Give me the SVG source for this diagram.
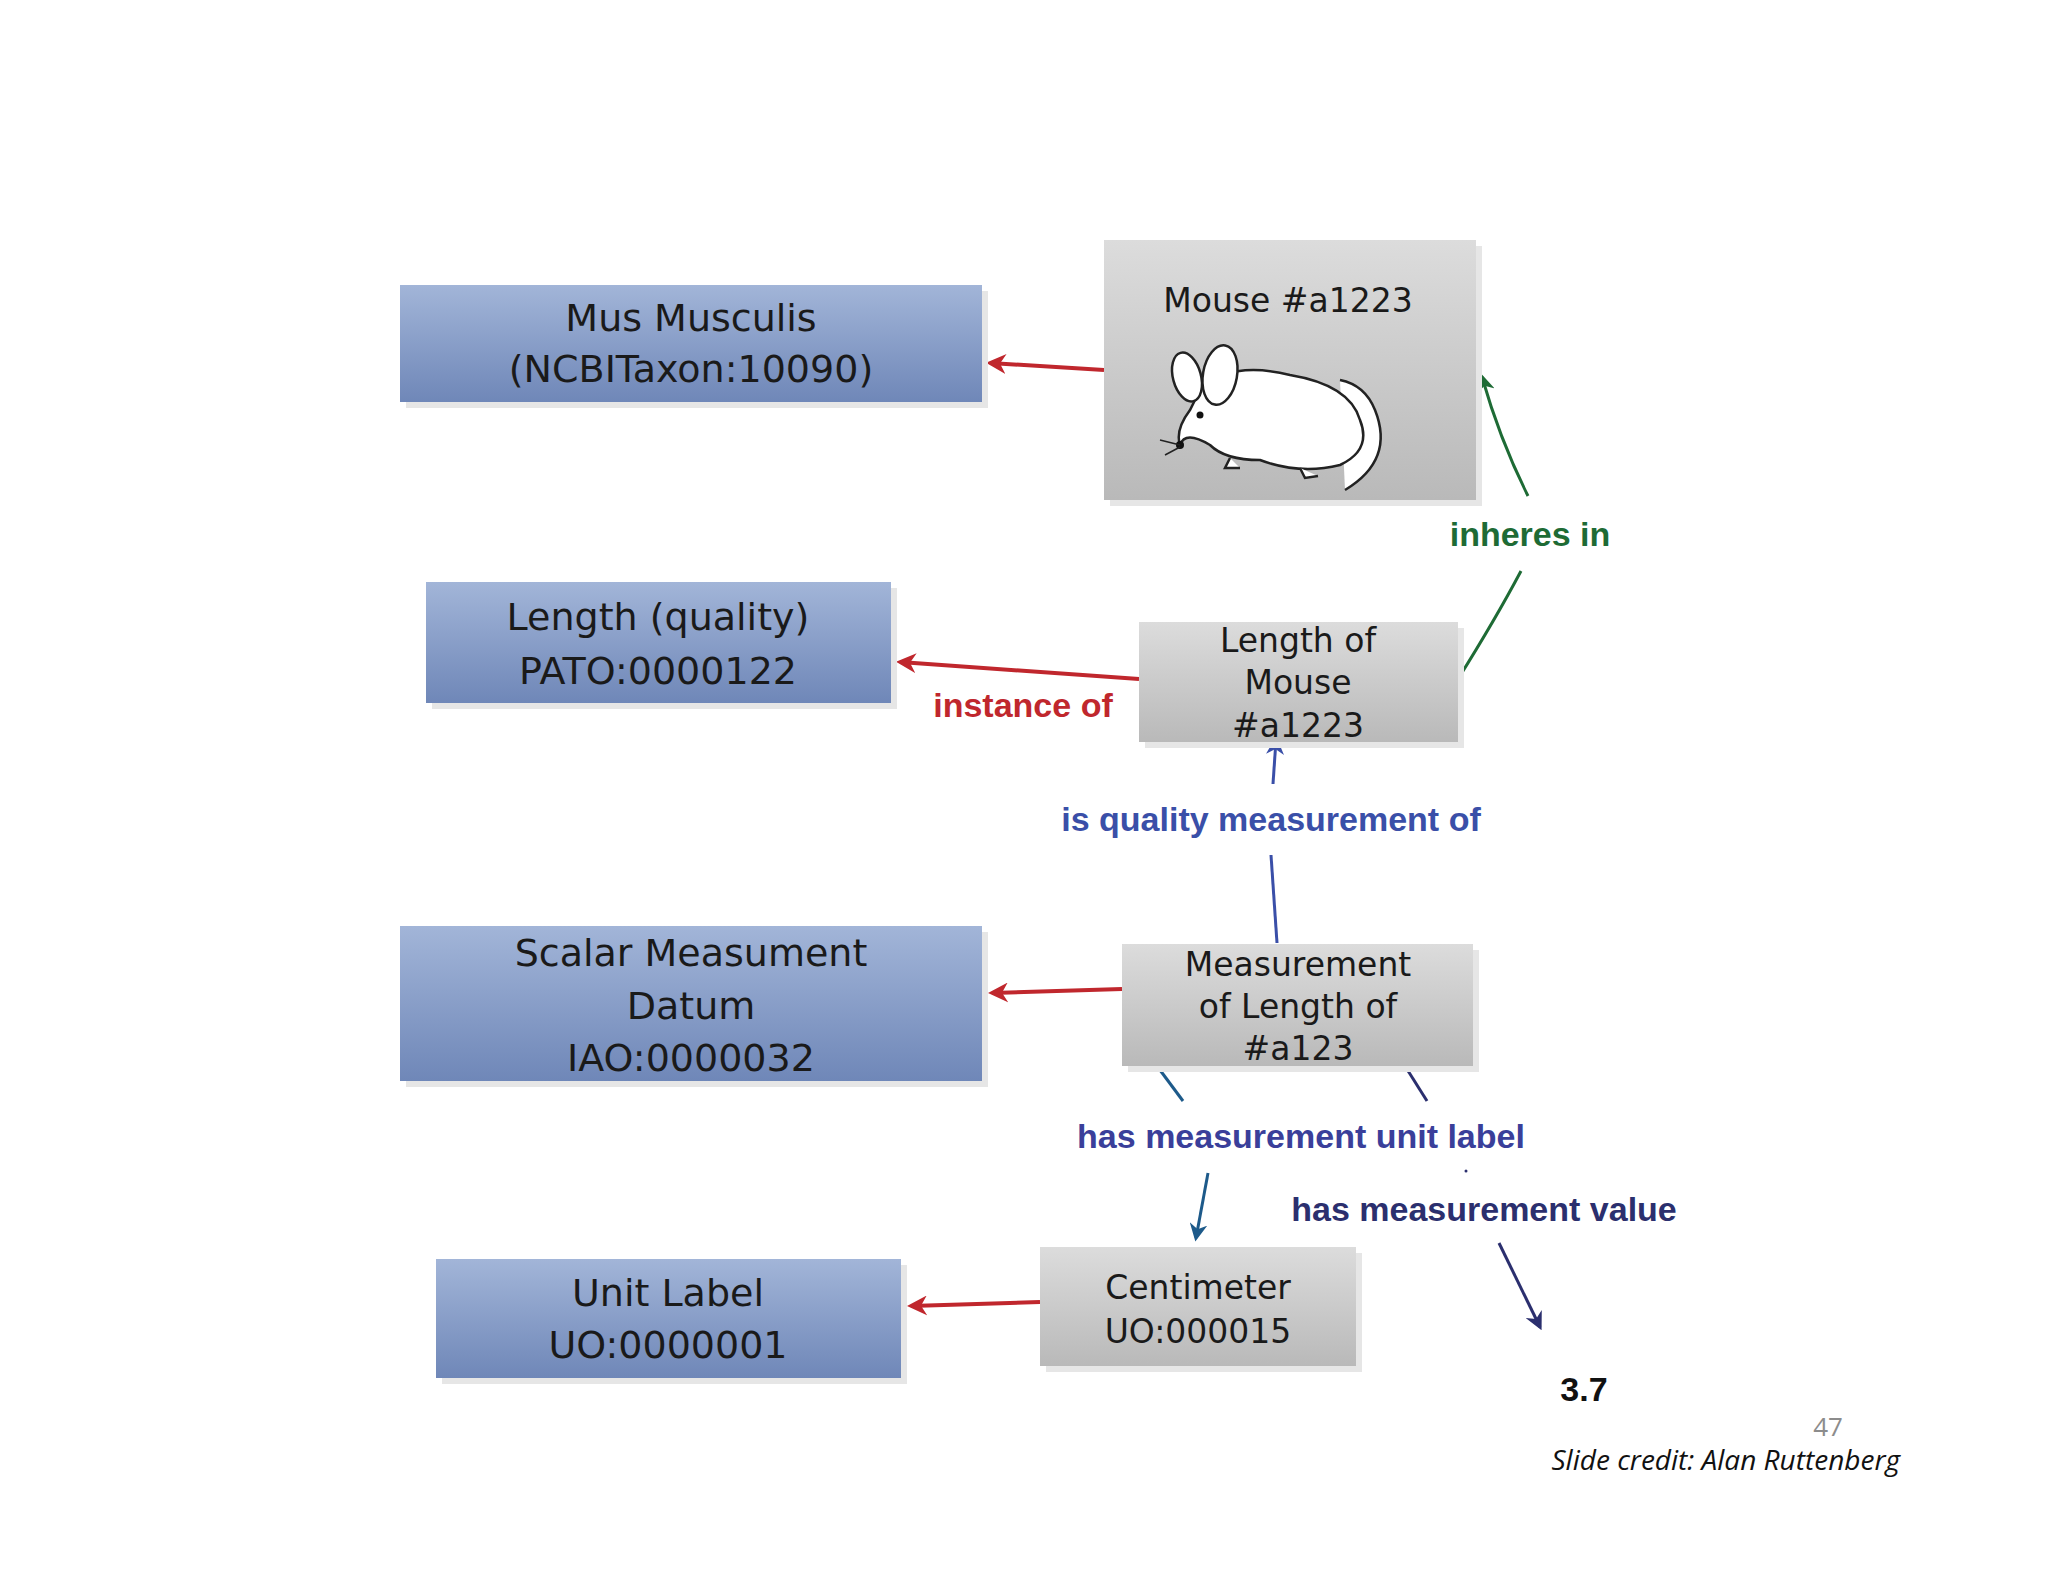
<svg xmlns="http://www.w3.org/2000/svg" width="2048" height="1582" viewBox="0 0 2048 1582">
<defs>
<linearGradient id="blue" x1="0" y1="0" x2="0" y2="1"><stop offset="0" stop-color="#a2b5d8"/><stop offset="1" stop-color="#6f87b8"/></linearGradient>
<linearGradient id="gray" x1="0" y1="0" x2="0" y2="1"><stop offset="0" stop-color="#dcdcdc"/><stop offset="1" stop-color="#b9b9b9"/></linearGradient>
<marker id="ar" viewBox="0 0 10 10" refX="8" refY="5" markerWidth="5" markerHeight="5" orient="auto"><path d="M0,0 L10,5 L0,10 L3,5 Z" fill="#c0272d"/></marker>
<marker id="ag" viewBox="0 0 10 10" refX="8" refY="5" markerWidth="6" markerHeight="6" orient="auto"><path d="M0,0 L10,5 L0,10 L3,5 Z" fill="#1e6b35"/></marker>
<marker id="ab" viewBox="0 0 10 10" refX="8" refY="5" markerWidth="6" markerHeight="6" orient="auto"><path d="M0,0 L10,5 L0,10 L3,5 Z" fill="#3a4fa8"/></marker>
<marker id="ad" viewBox="0 0 10 10" refX="8" refY="5" markerWidth="6" markerHeight="6" orient="auto"><path d="M0,0 L10,5 L0,10 L3,5 Z" fill="#1d5a8a"/></marker>
<marker id="an" viewBox="0 0 10 10" refX="8" refY="5" markerWidth="6" markerHeight="6" orient="auto"><path d="M0,0 L10,5 L0,10 L3,5 Z" fill="#2b2f6e"/></marker>
</defs>
<style>
.bx{font-family:"DejaVu Sans",sans-serif;font-size:38px;fill:#1a1a1a;text-anchor:middle}
.gx{font-family:"DejaVu Sans",sans-serif;font-size:33px;fill:#1a1a1a;text-anchor:middle}
.lb{font-family:"Liberation Sans",Arial,sans-serif;font-weight:bold;font-size:34px;text-anchor:middle}
.sh{fill:#e6e6e6}
</style>
<rect width="2048" height="1582" fill="#fff"/>
<g id="connectors" fill="none" stroke-width="4">
<path d="M1104,370 L990,363" stroke="#c0272d" marker-end="url(#ar)"/>
<path d="M1458,679 Q1495,620 1521,571" stroke="#1e6b35" stroke-width="3"/>
<path d="M1528,496 Q1500,440 1482,377" stroke="#1e6b35" stroke-width="3" marker-end="url(#ag)"/>
<path d="M1139,679 L900,662" stroke="#c0272d" marker-end="url(#ar)"/>
<path d="M1277,943 L1271,855" stroke="#3a4fa8" stroke-width="3"/>
<path d="M1273,784 L1276,740" stroke="#3a4fa8" stroke-width="3" marker-end="url(#ab)"/>
<path d="M1122,989 L992,993" stroke="#c0272d" marker-end="url(#ar)"/>
<path d="M1157,1066 L1183,1101" stroke="#1d5a8a" stroke-width="3"/>
<path d="M1208,1173 L1196,1238" stroke="#1d5a8a" stroke-width="3" marker-end="url(#ad)"/>
<path d="M1405,1066 L1427,1101" stroke="#2b2f6e" stroke-width="3"/>
<path d="M1499,1243 L1540,1327" stroke="#2b2f6e" stroke-width="3" marker-end="url(#an)"/>
<circle cx="1466" cy="1171" r="1.5" fill="#2b2f6e" stroke="none"/>
<path d="M1040,1302 L911,1306" stroke="#c0272d" marker-end="url(#ar)"/>
</g>
<g id="labels">
<text class="lb" x="1530" y="546" fill="#1e6b35">inheres in</text>
<text class="lb" x="1023" y="717" fill="#c0272d">instance of</text>
<text class="lb" x="1271" y="831" fill="#3a4fa8">is quality measurement of</text>
<text class="lb" x="1301" y="1148" fill="#3a3f9a">has measurement unit label</text>
<text class="lb" x="1484" y="1221" fill="#2b2f6e">has measurement value</text>
<text id="value" class="lb" x="1584" y="1401" fill="#111" font-size="42">3.7</text>
<text x="1828" y="1436" font-family="'Open Sans',sans-serif" font-size="26" fill="#8c8c8c" text-anchor="middle">47</text>
<text x="1900" y="1470" font-family="'Open Sans',sans-serif" font-style="italic" font-size="28" fill="#111" text-anchor="end">Slide credit: Alan Ruttenberg</text>
</g>
<g id="mus">
<rect class="sh" x="406" y="291" width="582" height="117"/>
<rect x="400" y="285" width="582" height="117" fill="url(#blue)"/>
<text class="bx" x="691" y="331">Mus Musculis</text>
<text class="bx" x="691" y="382">(NCBITaxon:10090)</text>
</g>
<g id="mouse">
<rect class="sh" x="1110" y="246" width="372" height="260"/>
<rect x="1104" y="240" width="372" height="260" fill="url(#gray)"/>
<text class="gx" x="1288" y="312">Mouse #a1223</text>
<g fill="#fff" stroke="#222" stroke-width="2.5">
<path d="M1345,490 Q1395,460 1375,410 Q1365,385 1340,380"/>
<path d="M1200,390 Q1230,360 1290,375 Q1350,385 1360,420 Q1372,450 1340,465 Q1300,475 1260,460 Q1225,460 1210,445 Q1185,430 1180,445 Q1175,430 1190,410 Z"/>
<ellipse cx="1187" cy="377" rx="14" ry="25" transform="rotate(-15 1187 377)"/>
<ellipse cx="1220" cy="375" rx="17" ry="30" transform="rotate(10 1220 375)"/>
<path d="M1230,458 L1225,468 L1240,468"/>
<path d="M1300,468 L1305,478 L1318,476"/>
</g>
<circle cx="1200" cy="415" r="3.5" fill="#111"/>
<circle cx="1180" cy="445" r="4" fill="#111"/>
<path d="M1180,445 L1160,440 M1180,447 L1165,455" stroke="#222" stroke-width="1.5"/>
</g>
<g id="lenq">
<rect class="sh" x="432" y="588" width="465" height="121"/>
<rect x="426" y="582" width="465" height="121" fill="url(#blue)"/>
<text class="bx" x="658" y="630">Length (quality)</text>
<text class="bx" x="658" y="684">PATO:0000122</text>
</g>
<g id="lenm">
<rect class="sh" x="1145" y="628" width="319" height="120"/>
<rect x="1139" y="622" width="319" height="120" fill="url(#gray)"/>
<text class="gx" x="1298" y="652">Length of</text>
<text class="gx" x="1298" y="694">Mouse</text>
<text class="gx" x="1298" y="737">#a1223</text>
</g>
<g id="scalar">
<rect class="sh" x="406" y="932" width="582" height="155"/>
<rect x="400" y="926" width="582" height="155" fill="url(#blue)"/>
<text class="bx" x="691" y="966">Scalar Measument</text>
<text class="bx" x="691" y="1019">Datum</text>
<text class="bx" x="691" y="1071">IAO:0000032</text>
</g>
<g id="meas">
<rect class="sh" x="1128" y="950" width="351" height="122"/>
<rect x="1122" y="944" width="351" height="122" fill="url(#gray)"/>
<text class="gx" x="1298" y="976">Measurement</text>
<text class="gx" x="1298" y="1018">of Length of</text>
<text class="gx" x="1298" y="1060">#a123</text>
</g>
<g id="unit">
<rect class="sh" x="442" y="1265" width="465" height="119"/>
<rect x="436" y="1259" width="465" height="119" fill="url(#blue)"/>
<text class="bx" x="668" y="1306">Unit Label</text>
<text class="bx" x="668" y="1358">UO:0000001</text>
</g>
<g id="cm">
<rect class="sh" x="1046" y="1253" width="316" height="119"/>
<rect x="1040" y="1247" width="316" height="119" fill="url(#gray)"/>
<text class="gx" x="1198" y="1299">Centimeter</text>
<text class="gx" x="1198" y="1343">UO:000015</text>
</g>
</svg>
